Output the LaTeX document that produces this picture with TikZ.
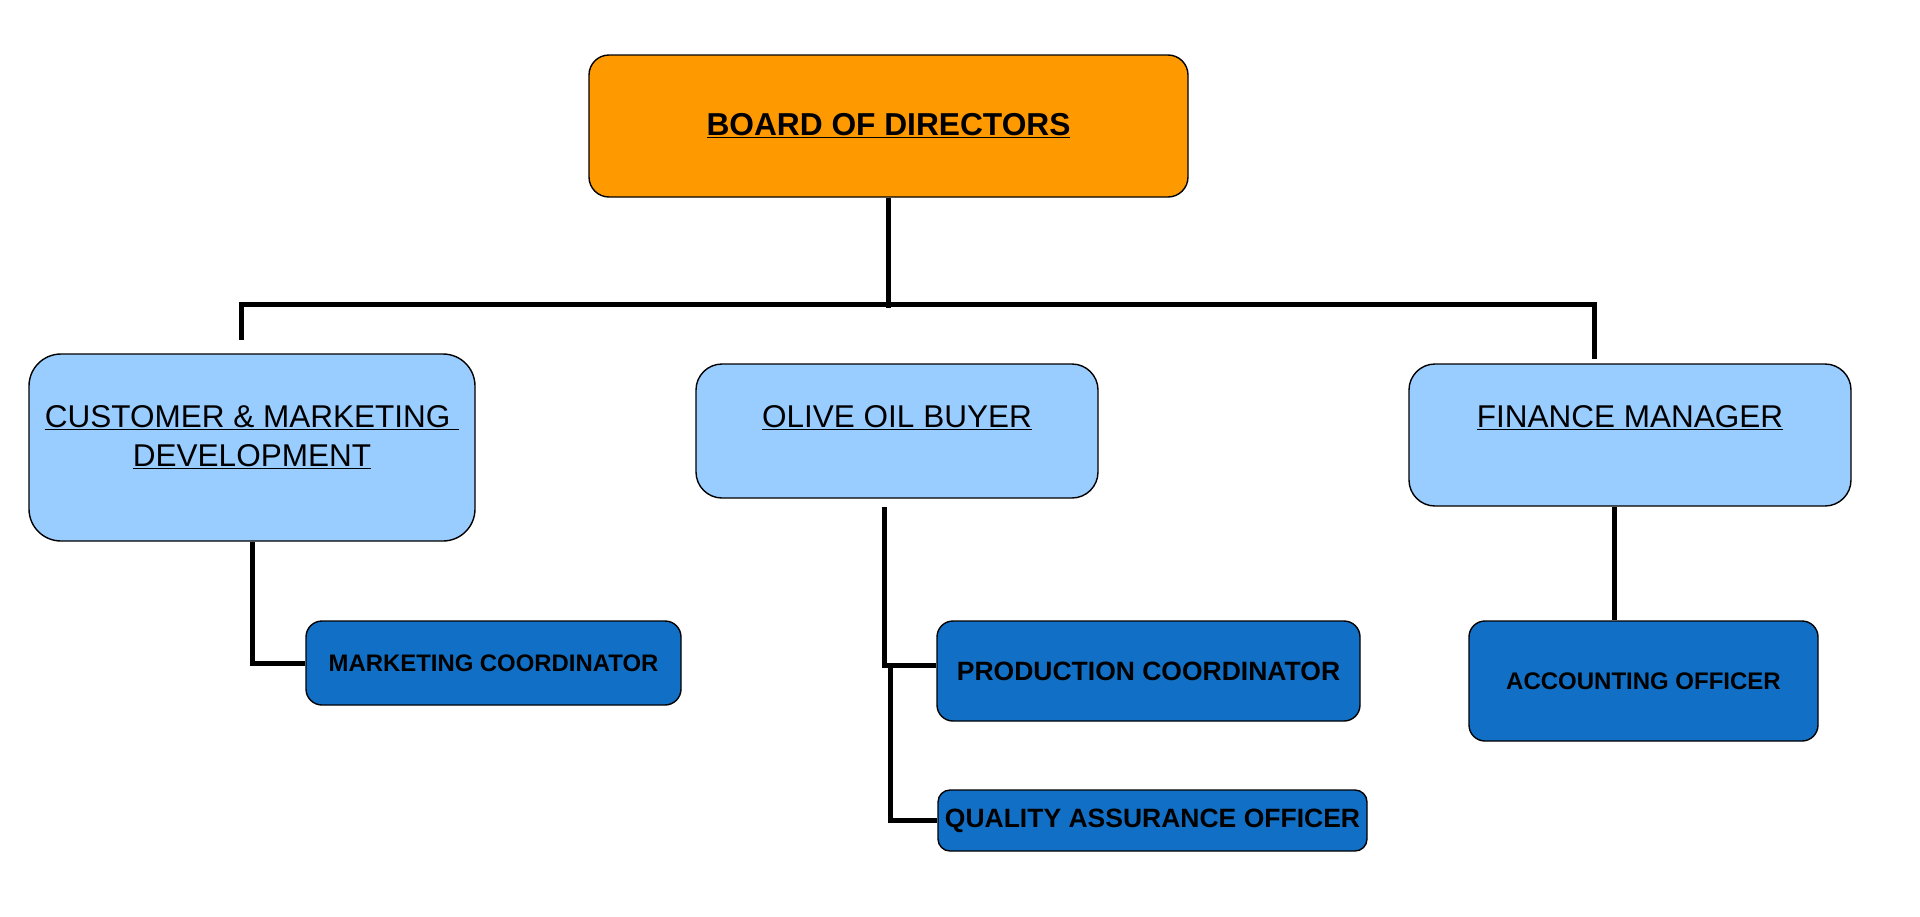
\documentclass[tikz,border=0pt]{standalone}
\usepackage{fontspec}
\setmainfont{Liberation Sans}
\definecolor{boardorange}{RGB}{255,153,0}
\definecolor{headblue}{RGB}{153,204,255}
\definecolor{staffblue}{RGB}{17,112,198}
\tikzset{orgbox/.style={draw=black,line width=1.4pt,inner sep=0pt}}
\tikzset{topbox/.style={orgbox,fill=boardorange,rounded corners=20pt,font=\fontsize{31.7}{38}\selectfont\bfseries}}
\tikzset{headbox/.style={orgbox,fill=headblue,rounded corners=26pt}}
\tikzset{headtext/.style={inner sep=0pt,align=center,font=\fontsize{31.5}{39}\selectfont}}
\tikzset{staffbox/.style={orgbox,fill=staffblue,rounded corners=16pt}}
\tikzset{conn/.style={line width=5pt}}

\begin{document}
\begin{tikzpicture}[x=1pt,y=-1pt]
  \useasboundingbox (0,0) rectangle (1920,916);

  % board and department heads
  \node [topbox,minimum width=599pt,minimum height=142pt] (board) at (888.5,126) {\underline{BOARD OF DIRECTORS}};
  \node [headbox,minimum width=446pt,minimum height=187pt,rounded corners=32pt] (cmd) at (252,447.5) {};
  \node [headbox,minimum width=402pt,minimum height=134pt] (buyer) at (897,431) {};
  \node [headbox,minimum width=442pt,minimum height=142pt] (finance) at (1630,435) {};
  \node [headtext] (cmdtext) at ([yshift=-84]cmd.north) {\underline{CUSTOMER \& MARKETING\ }\\\underline{DEVELOPMENT}};
  \node [headtext] (buyertext) at ([yshift=-54.5]buyer.north) {\underline{OLIVE OIL BUYER}};
  \node [headtext] (financetext) at ([yshift=-54.5]finance.north) {\underline{FINANCE MANAGER}};

  % staff
  \node [staffbox,minimum width=375pt,minimum height=84pt,font=\fontsize{23.9}{28}\selectfont\bfseries] (mktco) at (493.5,663) {MARKETING COORDINATOR};
  \node [staffbox,minimum width=423pt,minimum height=100pt,font=\fontsize{26.5}{30}\selectfont\bfseries] (prodco) at (1148.5,671) {PRODUCTION COORDINATOR};
  \node [staffbox,minimum width=429pt,minimum height=61pt,rounded corners=12pt,font=\fontsize{26.5}{30}\selectfont\bfseries] (qao) at (1152.5,820.5) {QUALITY ASSURANCE OFFICER};
  \node [staffbox,minimum width=349pt,minimum height=120pt,font=\fontsize{24}{28}\selectfont\bfseries] (acct) at (1643.5,681) {ACCOUNTING OFFICER};

  \coordinate (busy)   at (0,304);
  \coordinate (cmdin)  at (241,340);
  \coordinate (finin)  at (1594,359);
  \coordinate (buyout) at (884,507);
  \coordinate (finx)   at (1614,0);

  \draw [conn] (board.south) -- ([yshift=-4]board.south |- busy);
  \draw [conn] (cmdin) |- (board.south |- busy) -| (finin);
  \draw [conn] (cmd.south) |- (mktco.west);
  \draw [conn] (buyout) |- ([yshift=6]prodco.west);
  \draw [conn] ([xshift=6,yshift=6]buyout |- prodco.west) |- (qao.west);
  \draw [conn] (finance.south -| finx) -- (acct.north -| finx);
\end{tikzpicture}
\end{document}
